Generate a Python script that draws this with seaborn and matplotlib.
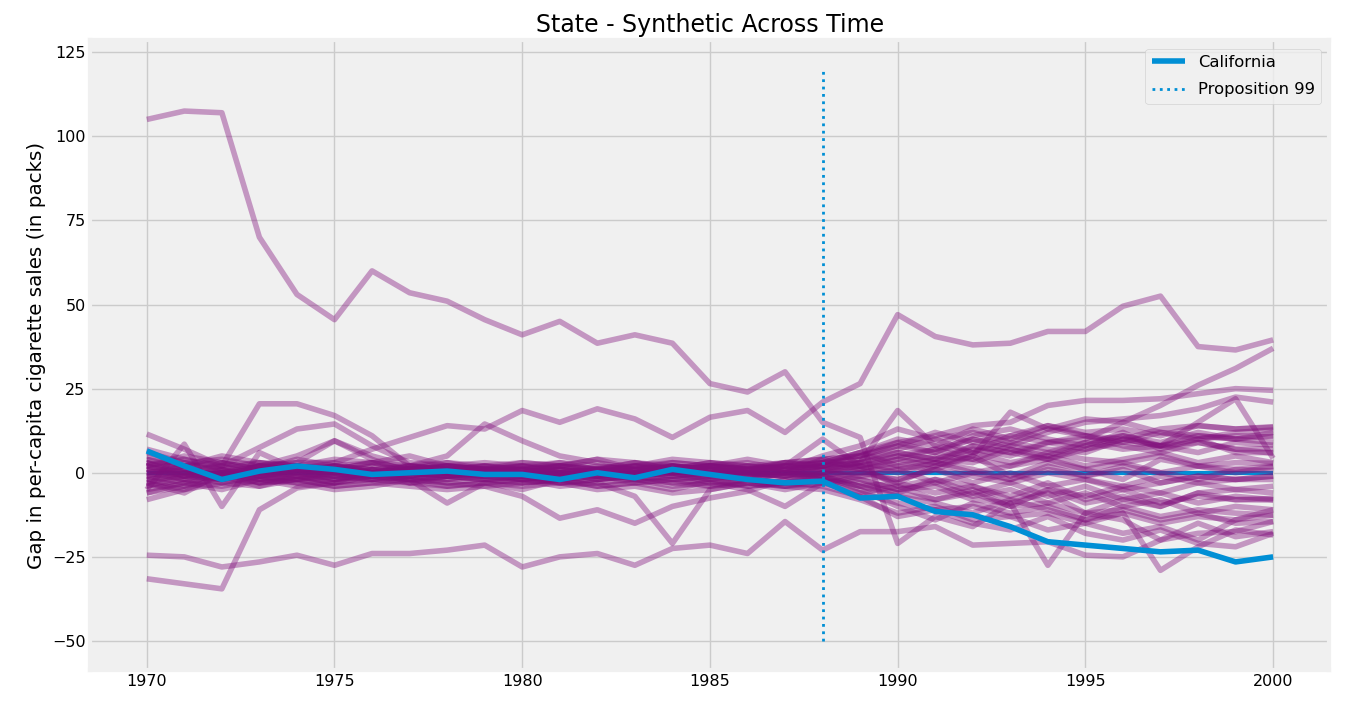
import pandas as pd
import matplotlib
matplotlib.use("Agg")
import matplotlib.pyplot as plt
import seaborn as sns

# anos do painel
years = list(range(1970, 2001))

# gap (real - sintetico) da California, em maços per capita
california = [6.5, 2, -2, 0.5, 2, 1, -0.5, 0, 0.5, -0.5,
              -0.5, -2, 0, -1.5, 1, -0.5, -2, -3, -2.5, -7.5,
              -7, -11.5, -12.5, -16, -20.5, -21.5, -22.5, -23.5, -23, -26.5, -25]

# gaps dos estados placebo
s01 = [105, 107.5, 107, 70, 53, 45.5, 60, 53.5, 51, 45.5,
       41, 45, 38.5, 41, 38.5, 26.5, 24, 30, 15, 10.5,
       -21, -13, -16, -9, -6, -12, -14, -20, -15, -19, -17.5]
s02 = [3, 1, -1, 2, 3, 3, 7, 10.5, 14, 13,
       18.5, 15, 19, 16, 10.5, 16.5, 18.5, 12, 21, 26.5,
       47, 40.5, 38, 38.5, 42, 42, 49.5, 52.5, 37.5, 36.5, 39.5]
s03 = [-24.5, -25, -28, -26.5, -24.5, -27.5, -24, -24, -23, -21.5,
       -28, -25, -24, -27.5, -22.5, -21.5, -24, -14.5, -23, -17.5,
       -17.5, -16, -21.5, -21, -20.5, -24.5, -25, -20, -18, -17.5, -14.5]
s04 = [-31.5, -33, -34.5, -11, -4.5, -3, 1, -3, -4, -3,
       -5, -2, -4, -3, -5, -2.5, -4, -3, 0, 3,
       6, 4, 8, 6, 9, 11, 10, 13, 14, 13, 13.5]
s05 = [-1, 2, 2, 20.5, 20.5, 17, 11, 2, 3, 1,
       2, 0, 1, -1, 2, 1, 0, 3, 4, 5,
       9, 11, 14, 15, 20, 21.5, 21.5, 22, 23.5, 25, 24.5]
s06 = [2, -1, 0, -3, -2, 1, -1, 0, 2, 1,
       0, -1, 1, 0, 2, 1, 0, -1, 2, 4,
       7, 10, 6, 11, 9, 10, 15, 20, 26, 31, 37]
s07 = [11.5, 7, 2, 7.5, 13, 14.5, 8, 3, 2, 1,
       0, 2, 1, 3, 1, 2, 3, 1, 5, 8,
       13, 10, 12, 9, 13, 16, 15, 12, 11, 10, 9]
s08 = [-5, 8.5, -10, 6, 1, -2, 0, -1, 1, 0,
       -2, -1, 0, -2, -1, 0, -2, 0, 4, 1,
       -3, 2, 5, -1, 3, 1, -2, 4, 2, 0, 1.8]
s09 = [1, -2, 0, 2, 3, 9.5, 5, 2, 5, 14.5,
       9.5, 5, 3, 1, 0, 2, 1, 0, 3, 6,
       2, 4, 3, 7, 5, 9, 11, 8, 10, 12, 12.7]
s10 = [-3, -5, -1, -4, -2, -4, -3, -4, -5, -4,
       -7, -13.5, -11, -15, -10, -7.5, -5.5, -2, -1, -5,
       -10, -14, -9, -12, -10, -14, -12, -15, -13, -14, -12.6]
s11 = [0, -2, 1, -1, 0, -2, -1, 1, 0, -1,
       -2, -3, -3, -7, -21, -5, -3, -4, -2, -6,
       -4, -8, -6, -10, -5, -9, -7, -10, -6, -8, -7.6]
s12 = [2, 0, -2, 1, 0, 2, 1, 0, -1, 1,
       1, 0, 2, 1, 0, 1, 2, 1, 2, 3,
       18.5, 8, 6, 9, 7, 6, 10, 8, 9, 7, 7.2]
s13 = [-2, -1, 0, -1, 1, -1, 0, -2, -1, 0,
       -1, 1, 0, -1, 1, 0, -1, 0, -2, 0,
       2, 1, 5, 18, 13, 11, 8, 6, 9, 7, 5.8]
s14 = [-6, -4, 1, -3, -2, -4, -3, -2, -3, -4,
       -3, -2, -4, -3, -2, -4, -3, -5, -3, -2,
       -5, -4, -8, -9, -27.5, -12, -8, -10, -6, -5, -4]
s15 = [4, 1, -1, 0, 2, 1, 3, 2, 1, 2,
       1, 2, 0, 1, 2, 1, 0, 2, 1, 3,
       5, 7, 4, 8, 6, 9, 7, 8, 15, 22, 4.3]
s16 = [-3, -6, 0, -2, -1, -3, -2, -1, -3, -2,
       -3, -2, -1, -2, -4, -3, -2, -4, -3, -6,
       -9, -11, -10, -13, -12, -15, -12, -29, -22, -17, -18.5]
s17 = [0, 1, -1, 2, 0, 1, -1, 1, 0, -1,
       0, 1, -1, 0, 1, 2, 1, 0, 2, 1,
       4, 7, 10, 8, 12, 15, 16, 17, 19, 22.5, 21]
s18 = [3, -1, 1, -2, 0, 2, 0, -1, 1, 0,
       1, -1, 0, 2, 0, 1, -1, 2, 10, 2,
       -4, -2, -6, -3, -7, -4, -8, -6, -9, -7, -8]
s19 = [-4, -2, -3, -1, -3, -5, -4, -2, -9, -3,
       -4, -3, -5, -4, -6, -5, -3, -4, -5, -8,
       -12, -10, -14, -13, -17, -15, -18, -16, -20, -14, -11]
s20 = [1, 3, 0, 2, 1, 0, 2, 1, 0, 1,
       -1, 0, -2, -1, 0, -3, -5, -10, -3, -1,
       1, -3, 0, -2, 2, -1, 1, -3, -1, -2, -1]
s21 = [-8, -5, -3, -4, -1, -2, 0, -1, -2, -1,
       0, -1, 1, 0, -1, 0, 1, 0, -1, 1,
       3, 5, 4, 2, 6, 4, 3, 5, 2, 3, 2.8]
s22 = [6, 3, 4, 2, 1, 3, 0, 2, 1, 2,
       3, 2, 4, 1, 3, 2, 1, 3, 4, 5,
       8, 12, 9, 11, 14, 12, 13, 11, 14, 13, 13.7]
s23 = [-2, -4, -1, -3, 0, -1, -2, 0, -1, -2,
       -1, -3, -2, 0, -1, -2, 0, -1, 1, -2,
       -5, -3, -7, -5, -9, -6, -10, -8, -12, -10, -11]
s24 = [5, 2, 3, 1, 2, 0, 1, 2, 0, 1,
       2, 1, 0, 2, 1, 3, 2, 1, 3, 6,
       10, 8, 13, 10, 14, 11, 9, 12, 10, 11, 10.7]
s25 = [-1, -3, 0, 1, -1, 0, -2, -1, 0, -1,
       -2, 0, -1, 1, 0, -1, 0, -2, 0, 2,
       0, 3, 1, -2, 1, -1, 2, 0, -2, 1, 0.5]
s26 = [2, 4, 1, 3, 2, 1, 0, 2, 1, 0,
       1, 2, 1, 3, 2, 0, 1, 2, 3, 4,
       6, 4, 7, 5, 9, 7, 10, 8, 6, 9, 8.2]
s27 = [-4, -1, -2, 0, -1, -3, -1, -2, -1, 0,
       -2, -1, 0, -1, -2, -1, -2, 0, -1, -4,
       -7, -9, -12, -8, -11, -14, -10, -13, -11, -12, -12.6]
s28 = [0, 2, 1, -1, 1, 2, 1, 0, 2, 1,
       0, 2, 1, 0, 1, 3, 1, 2, 1, 2,
       4, 2, 6, 3, 5, 2, 4, 6, 3, 5, 3]
s29 = [-5, -3, -4, -2, -3, -1, -2, -3, -1, -2,
       -3, -2, -1, -3, -2, -1, -2, -3, -2, -4,
       -3, -6, -4, -8, -5, -7, -4, -6, -3, -5, -6]
s30 = [3, 0, 2, -1, 1, 0, -1, 1, 0, 2,
       0, 1, -1, 0, 2, 1, 0, -1, 1, 0,
       -2, 1, -3, 0, -4, -2, -5, -3, -1, -2, -2]
s31 = [1, -1, 3, 0, 2, 1, 3, 1, 2, 0,
       2, 0, 1, 2, 3, 2, 1, 3, 2, 5,
       8, 6, 10, 7, 4, 8, 11, 9, 12, 10, 11]
s32 = [-3, 0, -2, 2, 5, 9.5, 4, 0, -1, -2,
       -1, -3, -2, -1, -3, -2, -4, -3, -1, -4,
       -6, -8, -5, -10, -9, -12, -11, -14, -12, -15, -14.5]
s33 = [4, 2, 5, 3, 2, 4, 3, 1, 2, 3,
       2, 3, 1, 2, 4, 3, 2, 3, 2, 6,
       9, 6, 11, 13, 10, 8, 12, 7, 10, 6, 6]
s34 = [-2, 0, -3, -1, -2, 0, -1, -3, -2, 0,
       -1, 0, -2, -1, 0, -2, -1, 1, -1, -3,
       -6, -2, -4, -7, -3, -8, -5, -9, -7, -8, -8.1]
s35 = [7, 4, 2, 3, 1, 2, 0, 1, 3, 2,
       1, 3, 2, 1, 2, 0, 2, 1, 2, 3,
       1, 3, 0, 2, 4, 1, 3, 0, 2, 1, 2]
s36 = [-6, -3, -5, -2, -4, -3, -1, -2, -4, -3,
       -2, -4, -3, -2, -3, -4, -2, -3, -4, -7,
       -13, -11, -15, -17, -13, -18, -20, -17, -21, -22, -18]
s37 = [2, 5, 3, 1, 4, 2, 3, 5, 2, 1,
       3, 2, 4, 3, 1, 2, 4, 2, 3, 2,
       5, 3, 8, 6, 4, 7, 9, 8, 11, 10, 12]
s38 = [-1, 1, -1, 0, -2, -1, 1, 0, -1, 0,
       1, -1, 0, -1, 0, 2, 0, -1, 0, -1,
       -2, 1, -1, -3, 0, -2, -4, -1, -3, -2, -1]

placebos = [s01, s02, s03, s04, s05, s06, s07, s08, s09, s10,
            s11, s12, s13, s14, s15, s16, s17, s18, s19, s20,
            s21, s22, s23, s24, s25, s26, s27, s28, s29, s30,
            s31, s32, s33, s34, s35, s36, s37, s38]

# tabela longa para o seaborn
linhas = []
for i, serie in enumerate(placebos):
    for ano, gap in zip(years, serie):
        linhas.append({'state': i, 'year': ano, 'gap': gap})
df = pd.DataFrame(linhas)

plt.style.use('fivethirtyeight')
plt.rcParams['figure.facecolor'] = 'white'
plt.rcParams['savefig.facecolor'] = 'white'
plt.rcParams['font.family'] = ['DejaVu Sans']

fig = plt.figure(figsize=(13.46, 7.15), dpi=100)
ax = fig.add_axes([0.0672, 0.0635, 0.9205, 0.880])

ax.hlines(y=0, xmin=1970, xmax=2000, lw=3, color='#008fd5', zorder=1.5)

sns.lineplot(data=df, x='year', y='gap', units='state', estimator=None,
             color='#810f7c', alpha=0.4, lw=4, legend=False, ax=ax)
sns.lineplot(x=years, y=california, color='#008fd5', lw=4,
             label='California', ax=ax)

ax.vlines(x=1988, ymin=-50, ymax=120, linestyle=':', lw=2,
          color='#008fd5', label='Proposition 99')

ax.set_xlabel('')
ax.set_ylabel('Gap in per-capita cigarette sales (in packs)', fontsize=14.3)
ax.set_title('State - Synthetic Across Time', fontsize=17)
ax.tick_params(labelsize=11.5)
ax.legend(loc='upper right', fontsize=11.8, labelspacing=0.75)

plt.savefig('out.png', dpi=100)
